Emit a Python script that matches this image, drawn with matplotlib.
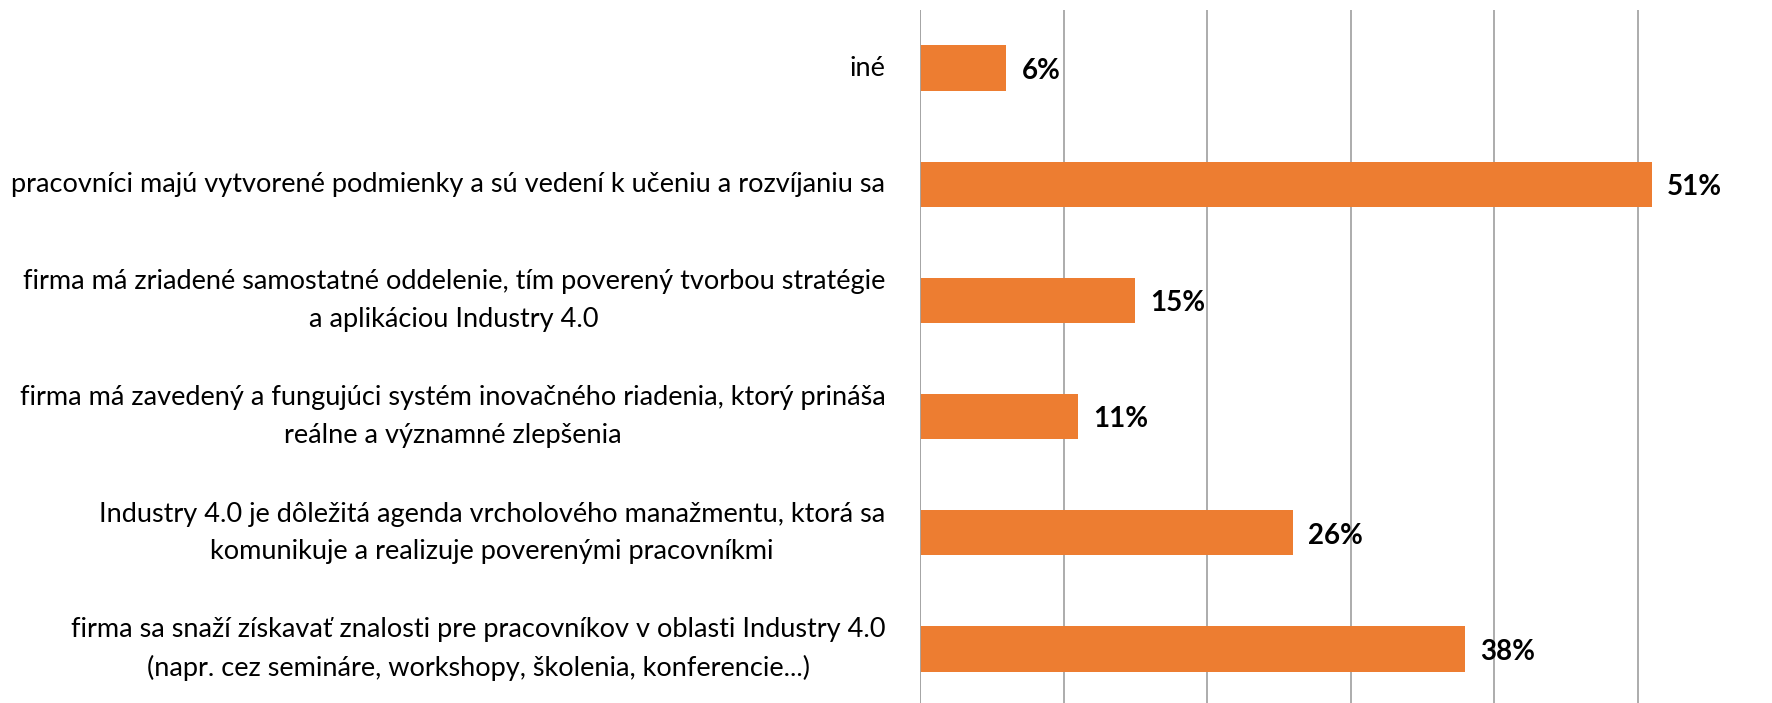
import matplotlib
matplotlib.use("Agg")
import matplotlib.pyplot as plt

categories = [
    "iné",
    "pracovníci majú vytvorené podmienky a sú vedení k učeniu a rozvíjaniu sa",
    "firma má zriadené samostatné oddelenie, tím poverený tvorbou stratégie\na aplikáciou Industry 4.0",
    "firma má zavedený a fungujúci systém inovačného riadenia, ktorý prináša\nreálne a významné zlepšenia",
    "Industry 4.0 je dôležitá agenda vrcholového manažmentu, ktorá sa\nkomunikuje a realizuje poverenými pracovníkmi",
    "firma sa snaží získavať znalosti pre pracovníkov v oblasti Industry 4.0\n(napr. cez semináre, workshopy, školenia, konferencie...)",
]
values = [6, 51, 15, 11, 26, 38]
value_labels = ["6%", "51%", "15%", "11%", "26%", "38%"]

W, H = 1772, 703
fig = plt.figure(figsize=(W / 100, H / 100), dpi=100)
ax_left = 920 / W
ax_top = 10 / H
ax_bot = -4 / H
ax = fig.add_axes([ax_left, ax_bot, 6 * 143.5 / W, 1 - ax_top - ax_bot])

n = len(categories)
ypos = list(range(n))
ax.barh(ypos, values, height=0.39, color="#ED7D31", zorder=3)
ax.set_ylim(n - 0.5, -0.5)
ax.set_xlim(0, 60)
ax.set_xticks(range(0, 61, 10))
ax.xaxis.grid(True, color="#a6a6a6", linewidth=1.3, zorder=0)
ax.tick_params(axis="x", length=0, labelbottom=False)
ax.tick_params(axis="y", length=0, pad=25)
ax.set_yticks(ypos)
ax.set_yticklabels(categories, fontsize=19.5, family="Lato", ha="right",
                   va="center", multialignment="center", linespacing=1.62)
for s in ax.spines.values():
    s.set_visible(False)
ax.axvline(0, color="#a6a6a6", linewidth=1.3, zorder=4)

for y, v, lab in zip(ypos, values, value_labels):
    ax.annotate(lab, (v, y), xytext=(11, -2), textcoords="offset points",
                ha="left", va="center", fontsize=20, fontweight="bold",
                family="Lato", color="black")

fig.savefig("out.png", dpi=100)
